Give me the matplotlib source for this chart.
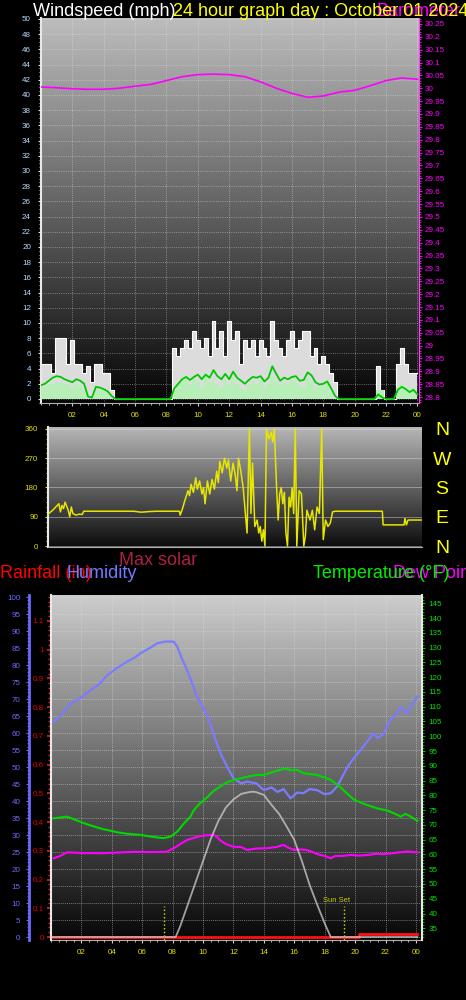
import matplotlib
matplotlib.use("Agg")
import matplotlib.pyplot as plt
import matplotlib.ticker as mticker
import matplotlib.transforms as mtransforms
import numpy as np

plt.rcParams['font.family'] = ['Liberation Sans', 'DejaVu Sans']

W, H = 466, 1000
my_dpi = 100

# ============= data
hours_15 = np.arange(97) * 0.25   # one value every 15 minutes

wind_gust = [4.6, 4.6, 4.6, 3.4,  8.0, 8.0, 8.0, 4.6,  7.8, 4.6, 4.6, 3.4,  4.4, 2.2, 4.6, 4.6,
             3.4, 3.4, 1.2, 0,    0, 0, 0, 0,          0, 0, 0, 0,          0, 0, 0, 0,
             0, 0, 6.7, 5.6,      6.7, 7.8, 6.7, 8.9,  7.8, 6.7, 8.0, 5.6,  10.3, 6.7, 9.0, 5.6,
             10.3, 7.8, 9.0, 4.6, 7.8, 6.7, 7.8, 5.6,  7.8, 6.7, 5.6, 10.3, 7.8, 6.7, 5.6, 7.8,
             9.0, 6.7, 7.8, 9.0,  9.0, 5.6, 6.7, 4.6,  5.6, 4.6, 3.4, 2.2,  0, 0, 0, 0,
             0, 0, 0, 0,          0, 0, 4.4, 1.2,      0, 0, 0, 4.6,        6.7, 4.6, 3.4, 3.4,
             3.4]

wind_speed = [1.6, 1.6, 2.0, 2.0,  2.2, 2.2, 2.0, 2.0,  1.6, 2.0, 1.8, 1.2,  0, 0, 1.6, 1.2,
              1.2, 0.8, 0, 0,      0, 0, 0, 0,          0, 0, 0, 0,          0, 0, 0, 0,
              0, 0, 1.0, 1.8,      2.2, 3.0, 1.8, 2.6,  2.2, 1.6, 3.4, 2.2,  2.8, 2.0, 1.6, 2.6,
              1.8, 3.0, 2.0, 1.4,  1.2, 1.8, 2.4, 2.0,  2.6, 1.6, 2.0, 3.0,  2.4, 1.8, 2.2, 2.0,
              2.6, 2.2, 1.8, 1.6,  2.8, 2.2, 1.4, 1.6,  1.8, 2.0, 0.8, 0,    0, 0, 0, 0,
              0, 0, 0, 0,          0, 0, 1.2, 1.2,      0, 0, 0, 1.6,        2.0, 1.6, 1.2, 1.6,
              1.2]

wind_avg = [1.8, 2.0, 2.4, 2.8,  3.0, 2.9, 2.6, 2.4,  2.2, 2.6, 2.4, 2.0,  0.3, 0.2, 1.6, 1.5,
            1.3, 1.0, 0.4, 0,    0, 0, 0, 0,          0, 0, 0, 0,          0, 0, 0, 0,
            0, 0, 1.4, 2.0,      2.6, 2.9, 2.5, 2.9,  3.2, 2.6, 3.2, 2.8,  3.8, 3.0, 2.6, 3.3,
            2.6, 3.6, 2.8, 2.4,  2.0, 2.5, 2.9, 2.8,  3.0, 2.3, 2.8, 4.3,  3.3, 2.4, 2.8, 2.6,
            2.9, 3.0, 2.4, 2.5,  3.5, 3.1, 2.2, 1.9,  2.0, 2.3, 1.4, 0.4,  0, 0, 0, 0,
            0, 0, 0, 0,          0, 0, 0.6, 0.2,      0, 0, 0, 1.2,        1.6, 1.3, 0.9, 1.2,
            0.6]

pressure_hours = list(range(25))
pressure_inhg = [30.005, 30.002, 29.998, 29.996, 29.996, 30.000, 30.008, 30.015, 30.030,
                 30.045, 30.053, 30.055, 30.053, 30.045, 30.025, 30.000, 29.980, 29.965,
                 29.970, 29.985, 29.992, 30.010, 30.030, 30.040, 30.035]

dir_hours = [0.05, 0.3, 0.5, 0.7, 0.8, 0.9, 1.0, 1.1, 1.3, 1.4, 1.5, 1.6, 1.8, 2.0, 2.2, 2.3,
             5.5, 6.0, 6.5, 7.0, 8.45, 8.5, 8.65, 8.8, 9.0, 9.1, 9.2, 9.35, 9.5, 9.6, 9.75,
             9.9, 10.0, 10.1, 10.25, 10.4, 10.55, 10.7, 10.85, 10.95, 11.05, 11.2, 11.35,
             11.5, 11.6, 11.75, 11.9, 12.05, 12.15, 12.25, 12.4, 12.55, 12.7, 12.8, 12.95,
             13.05, 13.15, 13.3, 13.45, 13.55, 13.65, 13.75, 13.85, 13.95, 14.05, 14.2,
             14.35, 14.45, 14.55, 14.7, 14.8, 14.9, 15.0, 15.1, 15.2, 15.3, 15.4, 15.5,
             15.6, 15.7, 15.8, 15.9, 16.0, 16.15, 16.3, 16.45, 16.55, 16.65, 16.85, 17.0,
             17.15, 17.3, 17.45, 17.6, 17.7, 17.85, 18.0, 18.15, 18.3, 18.45, 21.5, 21.55,
             22.9, 22.95, 23.05, 23.15, 24.0]
dir_deg = [100, 110, 120, 130, 105, 125, 115, 135, 110, 90, 120, 100, 95, 98, 97, 107,
           107, 104, 106, 107, 107, 95, 115, 140, 170, 155, 190, 165, 210, 175, 200,
           160, 180, 130, 200, 160, 205, 175, 230, 195, 260, 225, 270,
           240, 265, 200, 255, 215, 170, 270, 230, 180, 95, 40, 360,
           100, 255, 60, 80, 40, 60, 15, 50, 0, 360, 330,
           350, 320, 360, 180, 80, 160, 180, 130, 165, 40, 0, 150,
           120, 180, 100, 360, 0, 170, 160, 0, 30, 110, 80, 110,
           50, 120, 100, 360, 20, 80, 60, 70, 105, 107, 107, 65,
           65, 85, 65, 80, 80]

hum_hours = [0.15, 0.6, 1.3, 2.0, 2.6, 3.2, 3.7, 4.3, 5.0, 5.5, 5.9, 6.5, 7.0, 7.5, 8.07, 8.3,
             8.6, 8.95, 9.3, 9.6, 10.0, 10.3, 10.6, 10.9, 11.2, 11.6, 12.0, 12.5, 12.9, 13.5,
             14.0, 14.5, 14.9, 15.3, 15.75, 16.2, 16.6, 17.0, 17.5, 18.0, 18.4, 18.8, 19.2,
             19.5, 19.9, 20.35, 20.8, 21.2, 21.5, 21.9, 22.3, 22.7, 23.0, 23.4, 23.7, 24.1]
hum_pct = [63.3, 65, 68.7, 70.5, 72.6, 74.5, 77, 79, 81, 82.2, 83.5, 85, 86.4, 86.9, 86.9, 85.4,
           82, 78.5, 74.5, 70.7, 67.5, 64.8, 61, 57, 53.5, 50, 46.7, 45.2, 45.7, 45.2,
           43.2, 44, 42.7, 43.5, 40.8, 42.5, 42.3, 43.5, 43.2, 42, 42.3, 44.2, 47.5,
           50, 52.5, 55, 57.5, 59.9, 58.5, 59.9, 63.8, 65.5, 67.7, 65.8, 68, 70.7]

temp_hours = [0.15, 1.06, 1.9, 2.5, 3.25, 4.35, 5.0, 5.9, 6.6, 7.4, 7.85, 8.3, 8.75, 9.17, 9.4,
              9.8, 10.3, 10.7, 11.1, 11.5, 12.0, 12.5, 12.9, 13.5, 14.0, 14.65, 15.0, 15.4,
              15.8, 16.2, 16.6, 17.0, 17.5, 18.0, 18.4, 19.0, 19.5, 19.9, 20.4, 20.8, 21.45,
              22.1, 22.6, 23.0, 23.3, 23.6, 24.1]
temp_f = [72.2, 72.8, 71.1, 70, 68.8, 67.5, 67, 66.6, 66, 65.5, 66, 67.7, 70.5, 72.8, 75,
          77.3, 79.5, 81.5, 82.9, 84.2, 85.2, 85.8, 86.3, 86.9, 86.9, 88, 88.5, 89.1,
          88.5, 88.6, 87.5, 87.2, 86.9, 86, 85.2, 82.9, 80.5, 78.6, 77.5, 76.7, 75.6,
          74.9, 73.8, 72.8, 73.7, 73, 71.4]

dew_hours = [0.18, 0.6, 1.06, 2.0, 3.25, 4.3, 5.4, 6.5, 7.6, 8.07, 8.5, 8.95, 9.4, 9.8, 10.3,
             10.7, 10.9, 11.1, 11.5, 12.0, 12.5, 12.9, 13.5, 14.2, 14.8, 15.3, 15.6, 16.0,
             16.4, 16.8, 17.2, 17.7, 18.0, 18.4, 18.7, 19.2, 19.7, 20.3, 20.8, 21.4, 21.9,
             22.6, 23.4, 24.1]
dew_f = [58.7, 59.5, 60.7, 60.5, 60.4, 60.6, 60.9, 60.8, 60.9, 62.1, 63.5, 64.9, 65.6, 66.2, 66.5,
         66.6, 66, 64.9, 63.5, 62.6, 62.5, 61.5, 62, 62.1, 62.5, 63.2, 62.3, 61.5,
         61.7, 61.5, 60.8, 59.8, 59.5, 58.7, 59.5, 59.5, 59.8, 59.6, 59.8, 60.2, 60.1,
         60.5, 61, 60.7]

solar_hours = [0, 8.2, 8.5, 9.0, 9.5, 10.0, 10.5, 11.0, 11.5, 12.0, 12.5, 13.0, 13.3, 13.5, 14.0,
               14.5, 15.0, 15.5, 16.0, 16.5, 17.0, 17.5, 18.0, 18.4, 24.1]
solar_wm2 = [0, 0, 60, 180, 300, 420, 540, 640, 715, 760, 790, 800, 803, 800, 785,
             730, 680, 610, 536, 420, 290, 180, 75, 0, 0]

rain_hours = [0, 20.25, 24.1]
rain_in = [0.0, 0.01, 0.01]

sun_rise = 7.4
sun_set = 19.25

hour_ticks = [2, 4, 6, 8, 10, 12, 14, 16, 18, 20, 22, 24]
hour_labels = ['02', '04', '06', '08', '10', '12', '14', '16', '18', '20', '22', '00']

# ============= helpers
TICK_SIZE = 5.8
TITLE_SIZE = 13


def px_rect(l, t, r, b):
  return [l / W, 1 - b / H, (r - l) / W, (b - t) / H]


def gradient(ax, top, bottom):
  g = np.linspace(top, bottom, 256).reshape(-1, 1)
  ax.imshow(g, cmap='gray', vmin=0, vmax=1, aspect='auto', extent=[0, 1, 0, 1],
            transform=ax.transAxes, zorder=0, interpolation='bilinear')


def only_spine(ax, keep):
  for name, sp in ax.spines.items():
    sp.set_visible(name in keep)


def hour_axis(ax):
  ax.set_xticks(hour_ticks)
  ax.set_xticklabels(hour_labels)
  ax.xaxis.set_minor_locator(mticker.MultipleLocator(0.5))
  ax.tick_params(axis='x', which='both', color='#d0d0d0', labelcolor='#e0e000',
                 labelsize=TICK_SIZE, length=2.2, pad=4)
  ax.tick_params(axis='x', which='minor', length=1.4)


fig = plt.figure(figsize=(W / my_dpi, H / my_dpi), dpi=my_dpi, facecolor='black')

# ============= top panel : wind speed + barometer
ax_w = fig.add_axes(px_rect(41, 18, 419, 403))
gradient(ax_w, 0.74, 0.02)
ax_w.fill_between(hours_15, wind_gust, step='mid', color='#dcdcdc', lw=0, zorder=2)
ax_w.step(hours_15, wind_gust, where='mid', color='white', lw=0.8, zorder=3)
ax_w.fill_between(hours_15, wind_speed, step='mid', color='#b8efb8', lw=0, zorder=4)
ax_w.plot(hours_15, wind_avg, color='#00c800', lw=1.3, zorder=5)
ax_w.set_xlim(0, 24.1)
ax_w.set_ylim(-0.53, 50.13)
hour_axis(ax_w)
ax_w.yaxis.set_major_locator(mticker.MultipleLocator(2))
ax_w.yaxis.set_minor_locator(mticker.MultipleLocator(0.5))
ax_w.tick_params(axis='y', which='both', color='#e0e0e0', labelcolor='#b8dcff',
                 labelsize=TICK_SIZE, length=2.2, pad=5)
ax_w.tick_params(axis='y', which='minor', length=1.4)
ax_w.grid(True, which='major', color='#e8e8e8', ls=':', lw=0.6, alpha=0.55)
only_spine(ax_w, ['left', 'bottom'])
ax_w.spines['left'].set_color('#e8e8e8')
ax_w.spines['left'].set_linewidth(1.5)
ax_w.spines['bottom'].set_color('#b0b0b0')

ax_p = ax_w.twinx()
ax_p.plot(pressure_hours, pressure_inhg, color='#ff00ff', lw=1.2)
ax_p.set_ylim(28.777, 30.273)
ax_p.yaxis.set_major_locator(mticker.MultipleLocator(0.05))
ax_p.yaxis.set_minor_locator(mticker.MultipleLocator(0.01))
ax_p.yaxis.set_major_formatter(mticker.FuncFormatter(lambda v, p: f"{round(v, 2):g}"))
ax_p.tick_params(axis='y', which='both', color='#ff00ff', labelcolor='#ff00ff',
                 labelsize=TICK_SIZE, length=2.2, pad=2)
ax_p.tick_params(axis='y', which='minor', length=1.2)
only_spine(ax_p, ['right'])
ax_p.spines['right'].set_color('#ff40ff')

# ============= middle panel : wind direction
ax_d = fig.add_axes(px_rect(48, 427, 422, 547))
gradient(ax_d, 0.72, 0.05)
ax_d.plot(dir_hours, dir_deg, color='#e6e600', lw=1.1, zorder=3)
ax_d.set_xlim(0, 24.05)
ax_d.set_ylim(-3, 366)
ax_d.set_xticks([])
ax_d.set_yticks([0, 90, 180, 270, 360])
ax_d.yaxis.set_minor_locator(mticker.MultipleLocator(15))
ax_d.tick_params(axis='y', which='both', color='#e0e000', labelcolor='#e0e000',
                 labelsize=TICK_SIZE, length=2.2, pad=5)
ax_d.tick_params(axis='y', which='minor', length=1.4)
ax_d.grid(True, axis='y', color='#e0e0e0', lw=0.7, alpha=0.45)
only_spine(ax_d, ['left', 'bottom'])
ax_d.spines['left'].set_color('#e8e8e8')
ax_d.spines['left'].set_linewidth(1.5)
ax_d.spines['bottom'].set_color('#b0b0b0')

ax_d2 = ax_d.twinx()
ax_d2.set_ylim(-3, 366)
ax_d2.set_yticks([0, 90, 180, 270, 360])
ax_d2.set_yticklabels(['N', 'E', 'S', 'W', 'N'])
ax_d2.tick_params(axis='y', length=0, pad=14.4, labelsize=14, labelcolor='#ffff00')
for lab in ax_d2.get_yticklabels():
  lab.set_ha('center')
only_spine(ax_d2, [])

# ============= titles
base = 1 - 16 / H
fig.text(33 / W, base, 'Windspeed (mph)', color='white', fontsize=TITLE_SIZE, va='baseline')
fig.text(377 / W, base, 'Barometer', color='#ff00ff', fontsize=TITLE_SIZE, va='baseline')
fig.text(173 / W, base, '24 hour graph day : October 01 2024', color='#ffff00',
         fontsize=TITLE_SIZE, va='baseline')

fig.text(119 / W, 1 - 565 / H, 'Max solar', color='#b01e44', fontsize=TITLE_SIZE, va='baseline')
base2 = 1 - 578 / H
fig.text(0, base2, 'Rainfall (in)', color='#ff0000', fontsize=TITLE_SIZE, va='baseline')
fig.text(67 / W, base2, 'Humidity', color='#7777ff', fontsize=TITLE_SIZE, va='baseline')
fig.text(393 / W, base2, 'Dew Point', color='#ff00ff', fontsize=TITLE_SIZE, va='baseline')
fig.text(313 / W, base2, 'Temperature (°F)', color='#00ee00', fontsize=TITLE_SIZE, va='baseline')

# ============= bottom panel : humidity, rain, temperature, dew point, solar
ax_h = fig.add_axes(px_rect(51, 595, 422, 940))
gradient(ax_h, 0.80, 0.03)
ax_h.plot(hum_hours, hum_pct, color='#7b7bff', lw=1.6, zorder=3)
ax_h.set_xlim(0, 24.4)
ax_h.set_ylim(-0.88, 100.6)
hour_axis(ax_h)
ax_h.yaxis.set_major_locator(mticker.MultipleLocator(5))
ax_h.yaxis.set_minor_locator(mticker.MultipleLocator(1))
ax_h.tick_params(axis='y', which='both', color='#6a6aff', labelcolor='#6a6aff',
                 labelsize=TICK_SIZE, length=2.5, pad=3.6)
ax_h.tick_params(axis='y', which='minor', length=1.5)
ax_h.grid(True, which='major', color='#e0e0e0', ls=(0, (1, 1)), lw=0.7, alpha=0.45)
only_spine(ax_h, ['left', 'bottom'])
ax_h.spines['left'].set_position(('outward', 15.8))
ax_h.spines['left'].set_color('#6a6aff')
ax_h.spines['left'].set_linewidth(2)
ax_h.spines['bottom'].set_color('#b0b0b0')

bt = mtransforms.blended_transform_factory(ax_h.transData, ax_h.transAxes)
for t in (sun_rise, sun_set):
  ax_h.axvline(t, ymax=0.1, color='#e0e000', ls=':', lw=1, zorder=4)
ax_h.text(sun_set + 0.45, 0.103, 'Sun Set', transform=bt, ha='right', va='bottom',
          fontsize=5.5, color='#c8c800')

ax_r = ax_h.twinx()
ax_r.yaxis.tick_left()
ax_r.step(rain_hours, rain_in, where='post', color='#ff1010', lw=2)
ax_r.set_ylim(-0.0104, 1.19)
ax_r.yaxis.set_major_locator(mticker.MultipleLocator(0.1))
ax_r.yaxis.set_minor_locator(mticker.AutoMinorLocator(6))
ax_r.yaxis.set_major_formatter(mticker.FuncFormatter(lambda v, p: f"{round(v, 2):g}"))
ax_r.tick_params(axis='y', which='both', color='#e02020', labelcolor='#e00000',
                 labelsize=TICK_SIZE, length=3, width=1.2, pad=2)
ax_r.tick_params(axis='y', which='minor', length=2, width=1)
only_spine(ax_r, ['left'])
ax_r.spines['left'].set_color('#e8e8e8')
ax_r.spines['left'].set_linewidth(1.5)

ax_t = ax_h.twinx()
ax_t.plot(temp_hours, temp_f, color='#00d800', lw=1.5)
ax_t.plot(dew_hours, dew_f, color='#ff00ff', lw=1.5)
ax_t.set_ylim(31.04, 147.8)
ax_t.yaxis.set_major_locator(mticker.MultipleLocator(5))
ax_t.yaxis.set_minor_locator(mticker.MultipleLocator(1))
ax_t.tick_params(axis='y', which='both', color='#00c000', labelcolor='#00e000',
                 labelsize=TICK_SIZE, length=2.2, pad=2.5)
ax_t.tick_params(axis='y', which='minor', length=1.4)
only_spine(ax_t, ['right'])
ax_t.spines['right'].set_color('#e8e8e8')
ax_t.spines['right'].set_linewidth(1.5)

ax_s = ax_h.twinx()
ax_s.plot(solar_hours, solar_wm2, color='#d0d0d0', lw=1.3, alpha=0.75)
ax_s.set_ylim(-16.5, 1889)
ax_s.set_yticks([])
only_spine(ax_s, [])

plt.savefig('out.png', dpi=my_dpi, facecolor='black')
